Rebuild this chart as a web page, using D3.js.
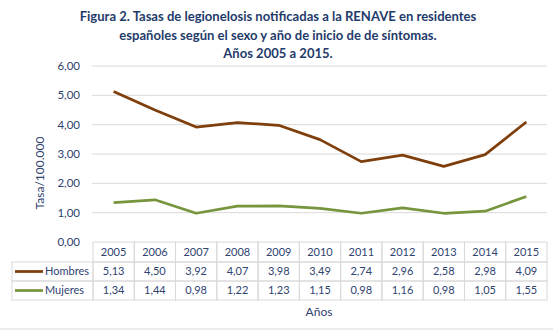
<!DOCTYPE html>
<html>
<head>
<meta charset="utf-8">
<script src="https://cdn.jsdelivr.net/npm/d3@7"></script>
<style>
  body { margin: 0; background: #fff; }
  svg { display: block; font-family: Lato, "Open Sans", sans-serif; }
</style>
</head>
<body>
<svg id="chart" width="553" height="330"></svg>
<script>
const years = ['2005', '2006', '2007', '2008', '2009', '2010', '2011', '2012', '2013', '2014', '2015'];
const hombres = [5.13, 4.50, 3.92, 4.07, 3.98, 3.49, 2.74, 2.96, 2.58, 2.98, 4.09];
const mujeres = [1.34, 1.44, 0.98, 1.22, 1.23, 1.15, 0.98, 1.16, 0.98, 1.05, 1.55];
const yTicks = [0, 1, 2, 3, 4, 5, 6];
const titleLines = [
  'Figura 2. Tasas de legionelosis notificadas a la RENAVE en residentes',
  'españoles según el sexo y año de inicio de de síntomas.',
  'Años 2005 a 2015.'
];

const series = [
  { name: 'Hombres', values: hombres, color: '#7f3f0c' },
  { name: 'Mujeres', values: mujeres, color: '#77953d' }
];

const fmt = v => d3.format('.2f')(v).replace('.', ',');
const textColor = '#2f4370';
const gridColor = '#d9d9d9';

const svg = d3.select('#chart');

// title, scaled so the first line spans the same width as the original
const title = svg.append('g');
const tLines = title.selectAll('text').data(titleLines).join('text')
  .attr('x', 278)
  .attr('y', (d, i) => 21 + i * 18.5)
  .attr('text-anchor', 'middle')
  .attr('font-weight', 'bold')
  .attr('font-size', 14)
  .attr('fill', '#1f3b6b')
  .text(d => d);
const w0 = tLines.node().getComputedTextLength();
tLines.attr('font-size', 14 * 397 / w0);

const x = d3.scaleBand().domain(years).range([93, 547]).padding(0);
const y = d3.scaleLinear().domain([0, 6]).range([242, 66]);

// gridlines + y labels
const yAxis = svg.append('g');
yAxis.selectAll('line').data(yTicks.filter(d => d > 0)).join('line')
  .attr('x1', 92).attr('x2', 547)
  .attr('y1', d => y(d)).attr('y2', d => y(d))
  .attr('stroke', gridColor).attr('stroke-width', 1);
yAxis.selectAll('text').data(yTicks).join('text')
  .attr('x', 80)
  .attr('y', d => y(d))
  .attr('dy', '0.35em')
  .attr('text-anchor', 'end')
  .attr('font-size', 11.5)
  .attr('fill', textColor)
  .text(fmt);

svg.append('text')
  .attr('transform', 'translate(44,173) rotate(-90)')
  .attr('text-anchor', 'middle')
  .attr('font-size', 12)
  .attr('fill', textColor)
  .text('Tasa/100.000');

// lines
const line = d3.line()
  .x((d, i) => x(years[i]) + x.bandwidth() / 2)
  .y(d => y(d));
svg.append('g').selectAll('path').data(series).join('path')
  .attr('d', d => line(d.values))
  .attr('fill', 'none')
  .attr('stroke', d => d.color)
  .attr('stroke-width', 2.75)
  .attr('stroke-linejoin', 'round');

// data table
const rowTop = [242, 262, 281];
const rowH = 19;
const legendLeft = 12;
const table = svg.append('g');

// header row
years.forEach(yr => {
  table.append('rect')
    .attr('x', x(yr)).attr('y', rowTop[0])
    .attr('width', x.bandwidth()).attr('height', rowTop[1] - rowTop[0])
    .attr('fill', 'none').attr('stroke', gridColor);
  table.append('text')
    .attr('x', x(yr) + x.bandwidth() / 2)
    .attr('y', (rowTop[0] + rowTop[1]) / 2)
    .attr('dy', '0.35em')
    .attr('text-anchor', 'middle')
    .attr('font-size', 11)
    .attr('fill', textColor)
    .text(yr);
});

series.forEach((s, si) => {
  const top = rowTop[si + 1];
  const mid = top + rowH / 2;
  table.append('rect')
    .attr('x', legendLeft).attr('y', top)
    .attr('width', x.range()[0] - legendLeft).attr('height', rowH)
    .attr('fill', 'none').attr('stroke', gridColor);
  table.append('line')
    .attr('x1', 15).attr('x2', 43)
    .attr('y1', mid).attr('y2', mid)
    .attr('stroke', s.color).attr('stroke-width', 2.75);
  table.append('text')
    .attr('x', 45).attr('y', mid).attr('dy', '0.35em')
    .attr('font-size', 11)
    .attr('fill', textColor)
    .text(s.name);
  s.values.forEach((v, i) => {
    table.append('rect')
      .attr('x', x(years[i])).attr('y', top)
      .attr('width', x.bandwidth()).attr('height', rowH)
      .attr('fill', 'none').attr('stroke', gridColor);
    table.append('text')
      .attr('x', x(years[i]) + x.bandwidth() / 2)
      .attr('y', mid).attr('dy', '0.35em')
      .attr('text-anchor', 'middle')
      .attr('font-size', 11)
      .attr('fill', textColor)
      .text(fmt(v));
  });
});

svg.append('text')
  .attr('x', 319).attr('y', 316)
  .attr('text-anchor', 'middle')
  .attr('font-size', 12)
  .attr('fill', textColor)
  .text('Años');

// bottom border of the chart area
svg.append('line')
  .attr('x1', 0).attr('x2', 553)
  .attr('y1', 329).attr('y2', 329)
  .attr('stroke', '#d9d9d9');
</script>
</body>
</html>
